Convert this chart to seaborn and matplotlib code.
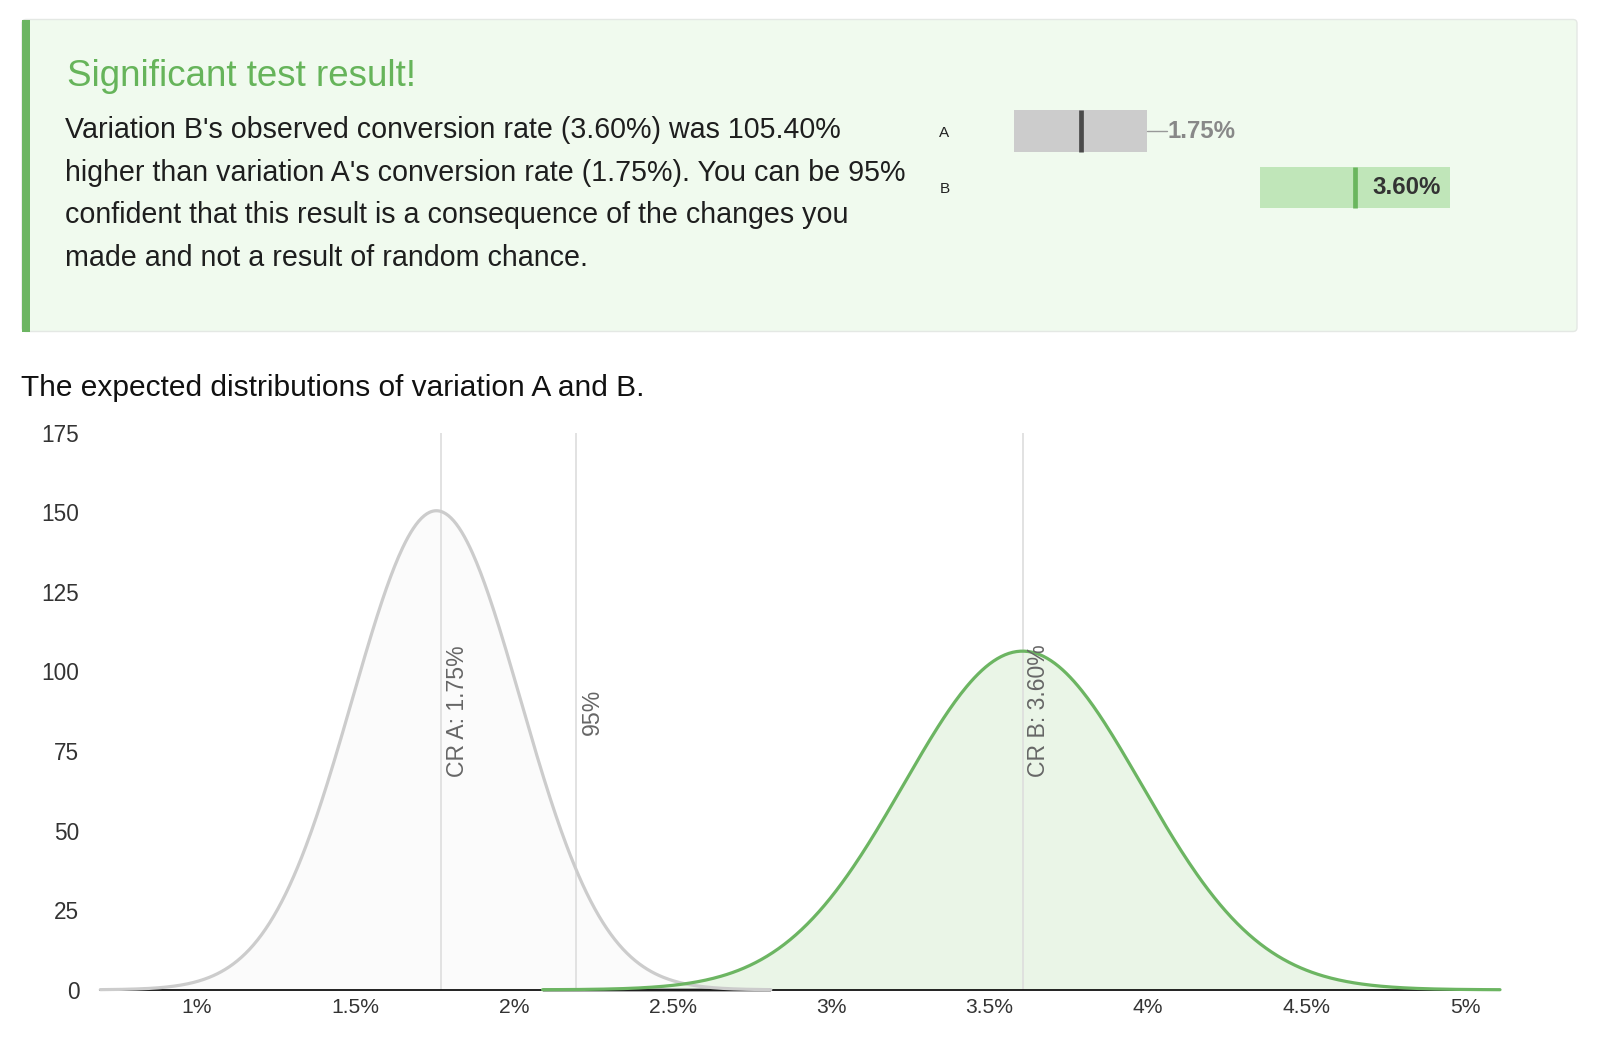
import numpy as np
import pandas as pd
import matplotlib
matplotlib.use("Agg")
import matplotlib.pyplot as plt
import seaborn as sns
from matplotlib.patches import FancyBboxPatch, Rectangle
from matplotlib.ticker import FuncFormatter

sns.set_theme(style="white")
plt.rcParams['font.family'] = ['Liberation Sans', 'DejaVu Sans']

# --- data ---
variations = ['A', 'B']
conv_rate = [1.755, 3.604]        # % , peak of each curve
std_err = [0.2651, 0.3750]        # % , spread of each curve
curve_from = [0.695, 2.09]        # where each curve is drawn
curve_to = [2.81, 5.11]
tail_from, tail_to = 2.09, 2.81   # gray stretch on the baseline

line_x = [1.77, 2.194, 3.604]
line_labels = ['CR A: 1.75%', '95%', 'CR B: 3.60%']
line_label_y = [66.7, 80.1, 66.7]

box_low = [1.30, 2.96]
box_high = [2.20, 4.24]
box_mid = [1.75, 3.60]
box_text = ['1.75%', '3.60%']

x_ticks = [1, 1.5, 2, 2.5, 3, 3.5, 4, 4.5, 5]
y_ticks = [0, 25, 50, 75, 100, 125, 150, 175]

head = "Significant test result!"
body = ["Variation B's observed conversion rate (3.60%) was 105.40%",
        "higher than variation A's conversion rate (1.75%). You can be 95%",
        "confident that this result is a consequence of the changes you",
        "made and not a result of random chance."]
chart_title = "The expected distributions of variation A and B."

GREEN = '#6cb562'
W, H = 1600, 1047


def frac(x0, y0, x1, y1):
    return [x0 / W, 1 - y1 / H, (x1 - x0) / W, (y1 - y0) / H]


fig = plt.figure(figsize=(16, 10.47), dpi=100)
fig.patch.set_facecolor('white')

# background layer in pixel units for the message panel
bg = fig.add_axes([0, 0, 1, 1], zorder=0)
bg.set_xlim(0, W)
bg.set_ylim(H, 0)
bg.axis('off')
bg.add_patch(FancyBboxPatch((22, 19.5), 1555, 312, boxstyle="round,pad=0,rounding_size=4",
                            facecolor='#f0faee', edgecolor='#e4e8e4', lw=1))
bg.add_patch(Rectangle((21.5, 19.5), 8.5, 312.5, facecolor=GREEN, edgecolor='none'))
bg.text(67, 86, head, fontsize=26.5, color='#66b45a', va='baseline', ha='left')
for i, line in enumerate(body):
    bg.text(65, 138 + i * 42.7, line, fontsize=20.6, color='#1e1e1e', va='baseline', ha='left')
bg.text(21, 396, chart_title, fontsize=21.5, color='#111111', va='baseline', ha='left')

# --- mini range chart (A / B) ---
mx = fig.add_axes(frac(930, 97.1, 1562.5, 221.4), zorder=2)
mx.patch.set_alpha(0)
mx.set_xlim((930 - 821) / 148.3, 5.0)
mx.set_ylim(1.6, -0.6)
ypos = np.arange(len(variations))
mx.barh(ypos, np.array(box_high) - np.array(box_low), left=box_low, height=0.73,
        color=['#cccccc', '#c0e6b9'], edgecolor='none')
mx.vlines(box_mid, ypos - 0.365, ypos + 0.365, colors=['#4a4a4a', '#6ab65e'], lw=3.4)
mx.plot([box_high[0], box_high[0] + 0.13], [0, 0], color='#999999', lw=1)
mx.text(box_high[0] + 0.135, 0, box_text[0], fontsize=17.3, fontweight='bold',
        color='#888888', va='center', ha='left')
mx.text(box_high[1] - 0.06, 1, box_text[1], fontsize=17.3, fontweight='bold',
        color='#333333', va='center', ha='right')
mx.set_xticks([])
mx.set_yticks(ypos, variations)
mx.tick_params(axis='y', length=0, pad=-14, labelsize=11, colors='#222222')
for s in mx.spines.values():
    s.set_visible(False)

# --- distributions ---
rows = []
for v, m, s, a, b in zip(variations, conv_rate, std_err, curve_from, curve_to):
    xs = np.linspace(a, b, 500)
    dens = np.exp(-0.5 * ((xs - m) / s) ** 2) / (s / 100 * np.sqrt(2 * np.pi))
    rows.append(pd.DataFrame({'rate': xs, 'density': dens, 'variation': v}))
df = pd.concat(rows, ignore_index=True)

ax = fig.add_axes(frac(100.3, 432.7, 1500, 989.8), zorder=1)
ax.patch.set_alpha(0)
fills = {'A': '#fbfbfb', 'B': '#eaf5e7'}
for v, d in df.groupby('variation'):
    ax.fill_between(d['rate'], 0, d['density'], color=fills[v], lw=0, zorder=1)

ax.vlines(line_x, 0, 175, colors='#dddddd', lw=1.2, zorder=2)
ax.plot([tail_from, tail_to], [0, 0], color='#999999', lw=2.6, zorder=3, clip_on=False,
        solid_capstyle='butt')
sns.lineplot(data=df, x='rate', y='density', hue='variation', estimator=None,
             palette={'A': '#cccccc', 'B': GREEN}, lw=2.3, legend=False, ax=ax,
             zorder=4, clip_on=False)

for x, lab, y in zip(line_x, line_labels, line_label_y):
    ax.annotate(lab, xy=(x, y), xytext=(3.5, 0), textcoords='offset points', rotation=90,
                ha='left', va='bottom', color='#666666', fontsize=16.6, zorder=5)

ax.set_xlim(0.695, 5.11)
ax.set_ylim(0, 175)
ax.set_xticks(x_ticks)
ax.set_yticks(y_ticks)
ax.xaxis.set_major_formatter(FuncFormatter(lambda v, p: f'{v:g}%'))
ax.set_xlabel('')
ax.set_ylabel('')
ax.tick_params(axis='x', length=0, labelsize=15.2, colors='#333333', pad=6)
ax.tick_params(axis='y', length=0, labelsize=16.3, colors='#333333', pad=15)
for side in ['top', 'right', 'left']:
    ax.spines[side].set_visible(False)
ax.spines['bottom'].set_color('#111111')
ax.spines['bottom'].set_linewidth(1.3)
ax.spines['bottom'].set_zorder(3)
ax.grid(False)

fig.savefig('out.png', dpi=100, facecolor='white')
